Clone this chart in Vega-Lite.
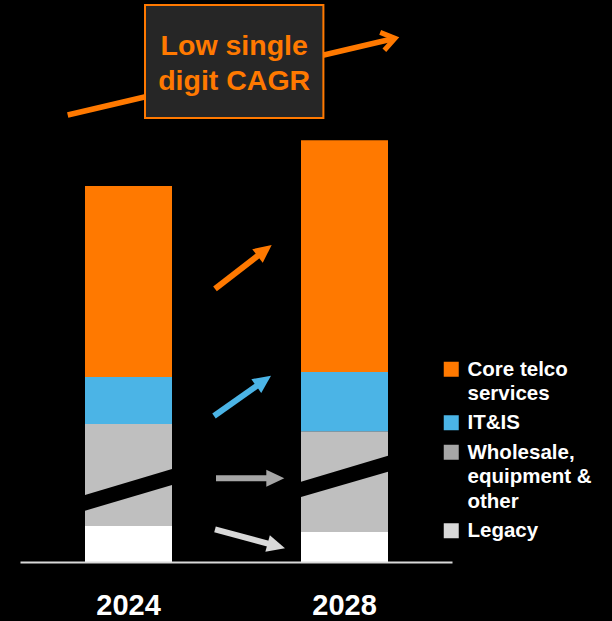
{
  "$schema": "https://vega.github.io/schema/vega-lite/v6.json",
  "width": 612,
  "height": 621,
  "autosize": {"type": "none"},
  "padding": 0,
  "background": "#000000",
  "config": {"view": {"stroke": null}, "style": {"guide-label": {"lineHeight": 24.5, "dy": 6.7}}},
  "datasets": {
    "revenue": [
      {"year": 2024, "series": "Legacy", "rank": 1, "value": 9.8},
      {"year": 2024, "series": "Wholesale, equipment & other", "rank": 2, "value": 26.9},
      {"year": 2024, "series": "IT&IS", "rank": 3, "value": 12.5},
      {"year": 2024, "series": "Core telco services", "rank": 4, "value": 50.8},
      {"year": 2028, "series": "Legacy", "rank": 1, "value": 8.0},
      {"year": 2028, "series": "Wholesale, equipment & other", "rank": 2, "value": 26.8},
      {"year": 2028, "series": "IT&IS", "rank": 3, "value": 15.7},
      {"year": 2028, "series": "Core telco services", "rank": 4, "value": 61.7}
    ],
    "arrows": [
      {"series": "Core telco services", "x0": 2025.6019, "y0": 72.61, "x1": 2026.5204, "y1": 82.85},
      {"series": "IT&IS", "x0": 2025.5833, "y0": 38.83, "x1": 2026.5028, "y1": 48.16},
      {"series": "Wholesale, equipment & other", "x0": 2025.6204, "y0": 22.26, "x1": 2026.7185, "y1": 22.26},
      {"series": "Legacy", "x0": 2025.6019, "y0": 8.70, "x1": 2026.737, "y1": 4.28}
    ]
  },
  "data": {"name": "revenue"},
  "layer": [
    {
      "mark": {"type": "bar", "width": 87},
      "encoding": {
        "x": {"field": "year", "type": "quantitative", "axis": null, "scale": {"domain": [2021.62037, 2032.9537], "nice": false, "zero": false, "padding": 0}},
        "y": {"field": "value", "type": "quantitative", "stack": "zero", "axis": null, "scale": {"domain": [-15.691, 149.468], "nice": false, "zero": false, "padding": 0}},
        "order": {"field": "rank", "type": "quantitative"},
        "fill": {
          "field": "series", "type": "nominal", "legend": null,
          "scale": {"domain": ["Legacy", "Wholesale, equipment & other", "IT&IS", "Core telco services"], "range": ["#FFFFFF", "#BFBFBF", "#4BB4E6", "#FF7900"]}
        }
      }
    },
    {
      "data": {"values": [
        {"bar": 2024, "x": 2023.1944, "lo": 13.64, "hi": 17.82},
        {"bar": 2024, "x": 2024.8056, "lo": 20.48, "hi": 24.73},
        {"bar": 2028, "x": 2027.1944, "lo": 17.29, "hi": 21.36},
        {"bar": 2028, "x": 2028.8056, "lo": 24.02, "hi": 28.27}
      ]},
      "mark": {"type": "area", "color": "#000000", "opacity": 1},
      "encoding": {
        "x": {"field": "x", "type": "quantitative", "axis": null},
        "y": {"field": "lo", "type": "quantitative", "axis": null},
        "y2": {"field": "hi"},
        "detail": {"field": "bar", "type": "nominal"}
      }
    },
    {
      "data": {"values": [{}]},
      "mark": {"type": "rule", "color": "#D9D9D9", "strokeWidth": 2},
      "encoding": {
        "x": {"datum": 2022, "type": "quantitative"},
        "x2": {"datum": 2030},
        "y": {"datum": -0.15, "type": "quantitative"}
      }
    },
    {
      "data": {"name": "arrows"},
      "mark": {"type": "rule", "strokeWidth": 6, "strokeCap": "butt"},
      "encoding": {
        "x": {"field": "x0", "type": "quantitative"},
        "y": {"field": "y0", "type": "quantitative"},
        "x2": {"field": "x1"},
        "y2": {"field": "y1"},
        "stroke": {"field": "series", "type": "nominal", "legend": null, "scale": {"domain": ["IT&IS", "Core telco services", "Legacy", "Wholesale, equipment & other"], "range": ["#4BB4E6", "#FF7900", "#D9D9D9", "#A6A6A6"]}}
      }
    },
    {
      "data": {"name": "arrows"},
      "transform": [{"filter": "datum.series == 'Core telco services'"}],
      "mark": {"type": "point", "shape": "M1,0L-1,-0.95L-1,0.95Z", "size": 324, "filled": true, "opacity": 1, "angle": 322.2},
      "encoding": {
        "x": {"field": "x1", "type": "quantitative"},
        "y": {"field": "y1", "type": "quantitative"},
        "color": {
          "field": "series", "type": "nominal",
          "scale": {"domain": ["Core telco services", "IT&IS", "Wholesale, equipment & other", "Legacy"], "range": ["#FF7900", "#4BB4E6", "#A6A6A6", "#D9D9D9"]},
          "legend": {
            "orient": "none", "legendX": 441, "legendY": 359, "title": null,
            "symbolType": "square", "symbolSize": 225, "symbolStrokeWidth": 0,
            "labelFont": "Liberation Sans", "labelFontSize": 20.5, "labelFontWeight": "bold", "labelColor": "#FFFFFF",
            "labelLimit": 0, "labelOffset": 6, "rowPadding": 7.5, "padding": 0, "labelBaseline": "alphabetic",
            "labelExpr": "datum.label == 'Core telco services' ? ['Core telco', 'services'] : datum.label == 'Wholesale, equipment & other' ? ['Wholesale,', 'equipment &', 'other'] : datum.label"
          }
        }
      }
    },
    {
      "data": {"name": "arrows"},
      "transform": [{"filter": "datum.series == 'IT&IS'"}],
      "mark": {"type": "point", "shape": "M1,0L-1,-0.95L-1,0.95Z", "size": 324, "filled": true, "opacity": 1, "angle": 324.7, "color": "#4BB4E6"},
      "encoding": {"x": {"field": "x1", "type": "quantitative"}, "y": {"field": "y1", "type": "quantitative"}}
    },
    {
      "data": {"name": "arrows"},
      "transform": [{"filter": "datum.series == 'Wholesale, equipment & other'"}],
      "mark": {"type": "point", "shape": "M1,0L-1,-0.95L-1,0.95Z", "size": 324, "filled": true, "opacity": 1, "angle": 0, "color": "#A6A6A6"},
      "encoding": {"x": {"field": "x1", "type": "quantitative"}, "y": {"field": "y1", "type": "quantitative"}}
    },
    {
      "data": {"name": "arrows"},
      "transform": [{"filter": "datum.series == 'Legacy'"}],
      "mark": {"type": "point", "shape": "M1,0L-1,-0.95L-1,0.95Z", "size": 324, "filled": true, "opacity": 1, "angle": 15.2, "color": "#D9D9D9"},
      "encoding": {"x": {"field": "x1", "type": "quantitative"}, "y": {"field": "y1", "type": "quantitative"}}
    },
    {
      "data": {"values": [{}]},
      "mark": {"type": "rule", "color": "#FF7900", "strokeWidth": 5.5, "strokeCap": "butt"},
      "encoding": {
        "x": {"datum": 2022.8741, "type": "quantitative"},
        "y": {"datum": 118.88, "type": "quantitative"},
        "x2": {"datum": 2028.8796},
        "y2": {"datum": 139.1}
      }
    },
    {
      "data": {"values": [{}]},
      "mark": {"type": "point", "shape": "M-0.43,-1L1,0L-0.43,1", "size": 335, "filled": false, "opacity": 1, "color": "#FF7900", "strokeWidth": 5, "angle": 346.8},
      "encoding": {
        "x": {"datum": 2028.7704, "type": "quantitative"},
        "y": {"datum": 138.72, "type": "quantitative"}
      }
    },
    {
      "data": {"values": [{}]},
      "mark": {"type": "rect", "fill": "#262626", "stroke": "#FF7900", "strokeWidth": 2},
      "encoding": {
        "x": {"datum": 2024.3056, "type": "quantitative"},
        "x2": {"datum": 2027.6093},
        "y": {"datum": 148.14, "type": "quantitative"},
        "y2": {"datum": 118.09}
      }
    },
    {
      "data": {"values": [{}]},
      "mark": {"type": "text", "align": "center", "baseline": "alphabetic", "lineBreak": "\n", "lineHeight": 35, "font": "Liberation Sans", "fontSize": 28.5, "fontWeight": "bold", "color": "#FF7900"},
      "encoding": {
        "x": {"datum": 2025.9574, "type": "quantitative"},
        "y": {"datum": 134.71, "type": "quantitative"},
        "text": {"value": "Low single\ndigit CAGR"}
      }
    },
    {
      "transform": [{"aggregate": [{"op": "sum", "field": "value", "as": "total"}], "groupby": ["year"]}],
      "mark": {"type": "text", "align": "center", "baseline": "alphabetic", "font": "Liberation Sans", "fontSize": 29, "fontWeight": "bold", "color": "#FFFFFF"},
      "encoding": {
        "x": {"field": "year", "type": "quantitative"},
        "y": {"datum": -14.04, "type": "quantitative"},
        "text": {"field": "year", "type": "nominal"}
      }
    }
  ]
}
